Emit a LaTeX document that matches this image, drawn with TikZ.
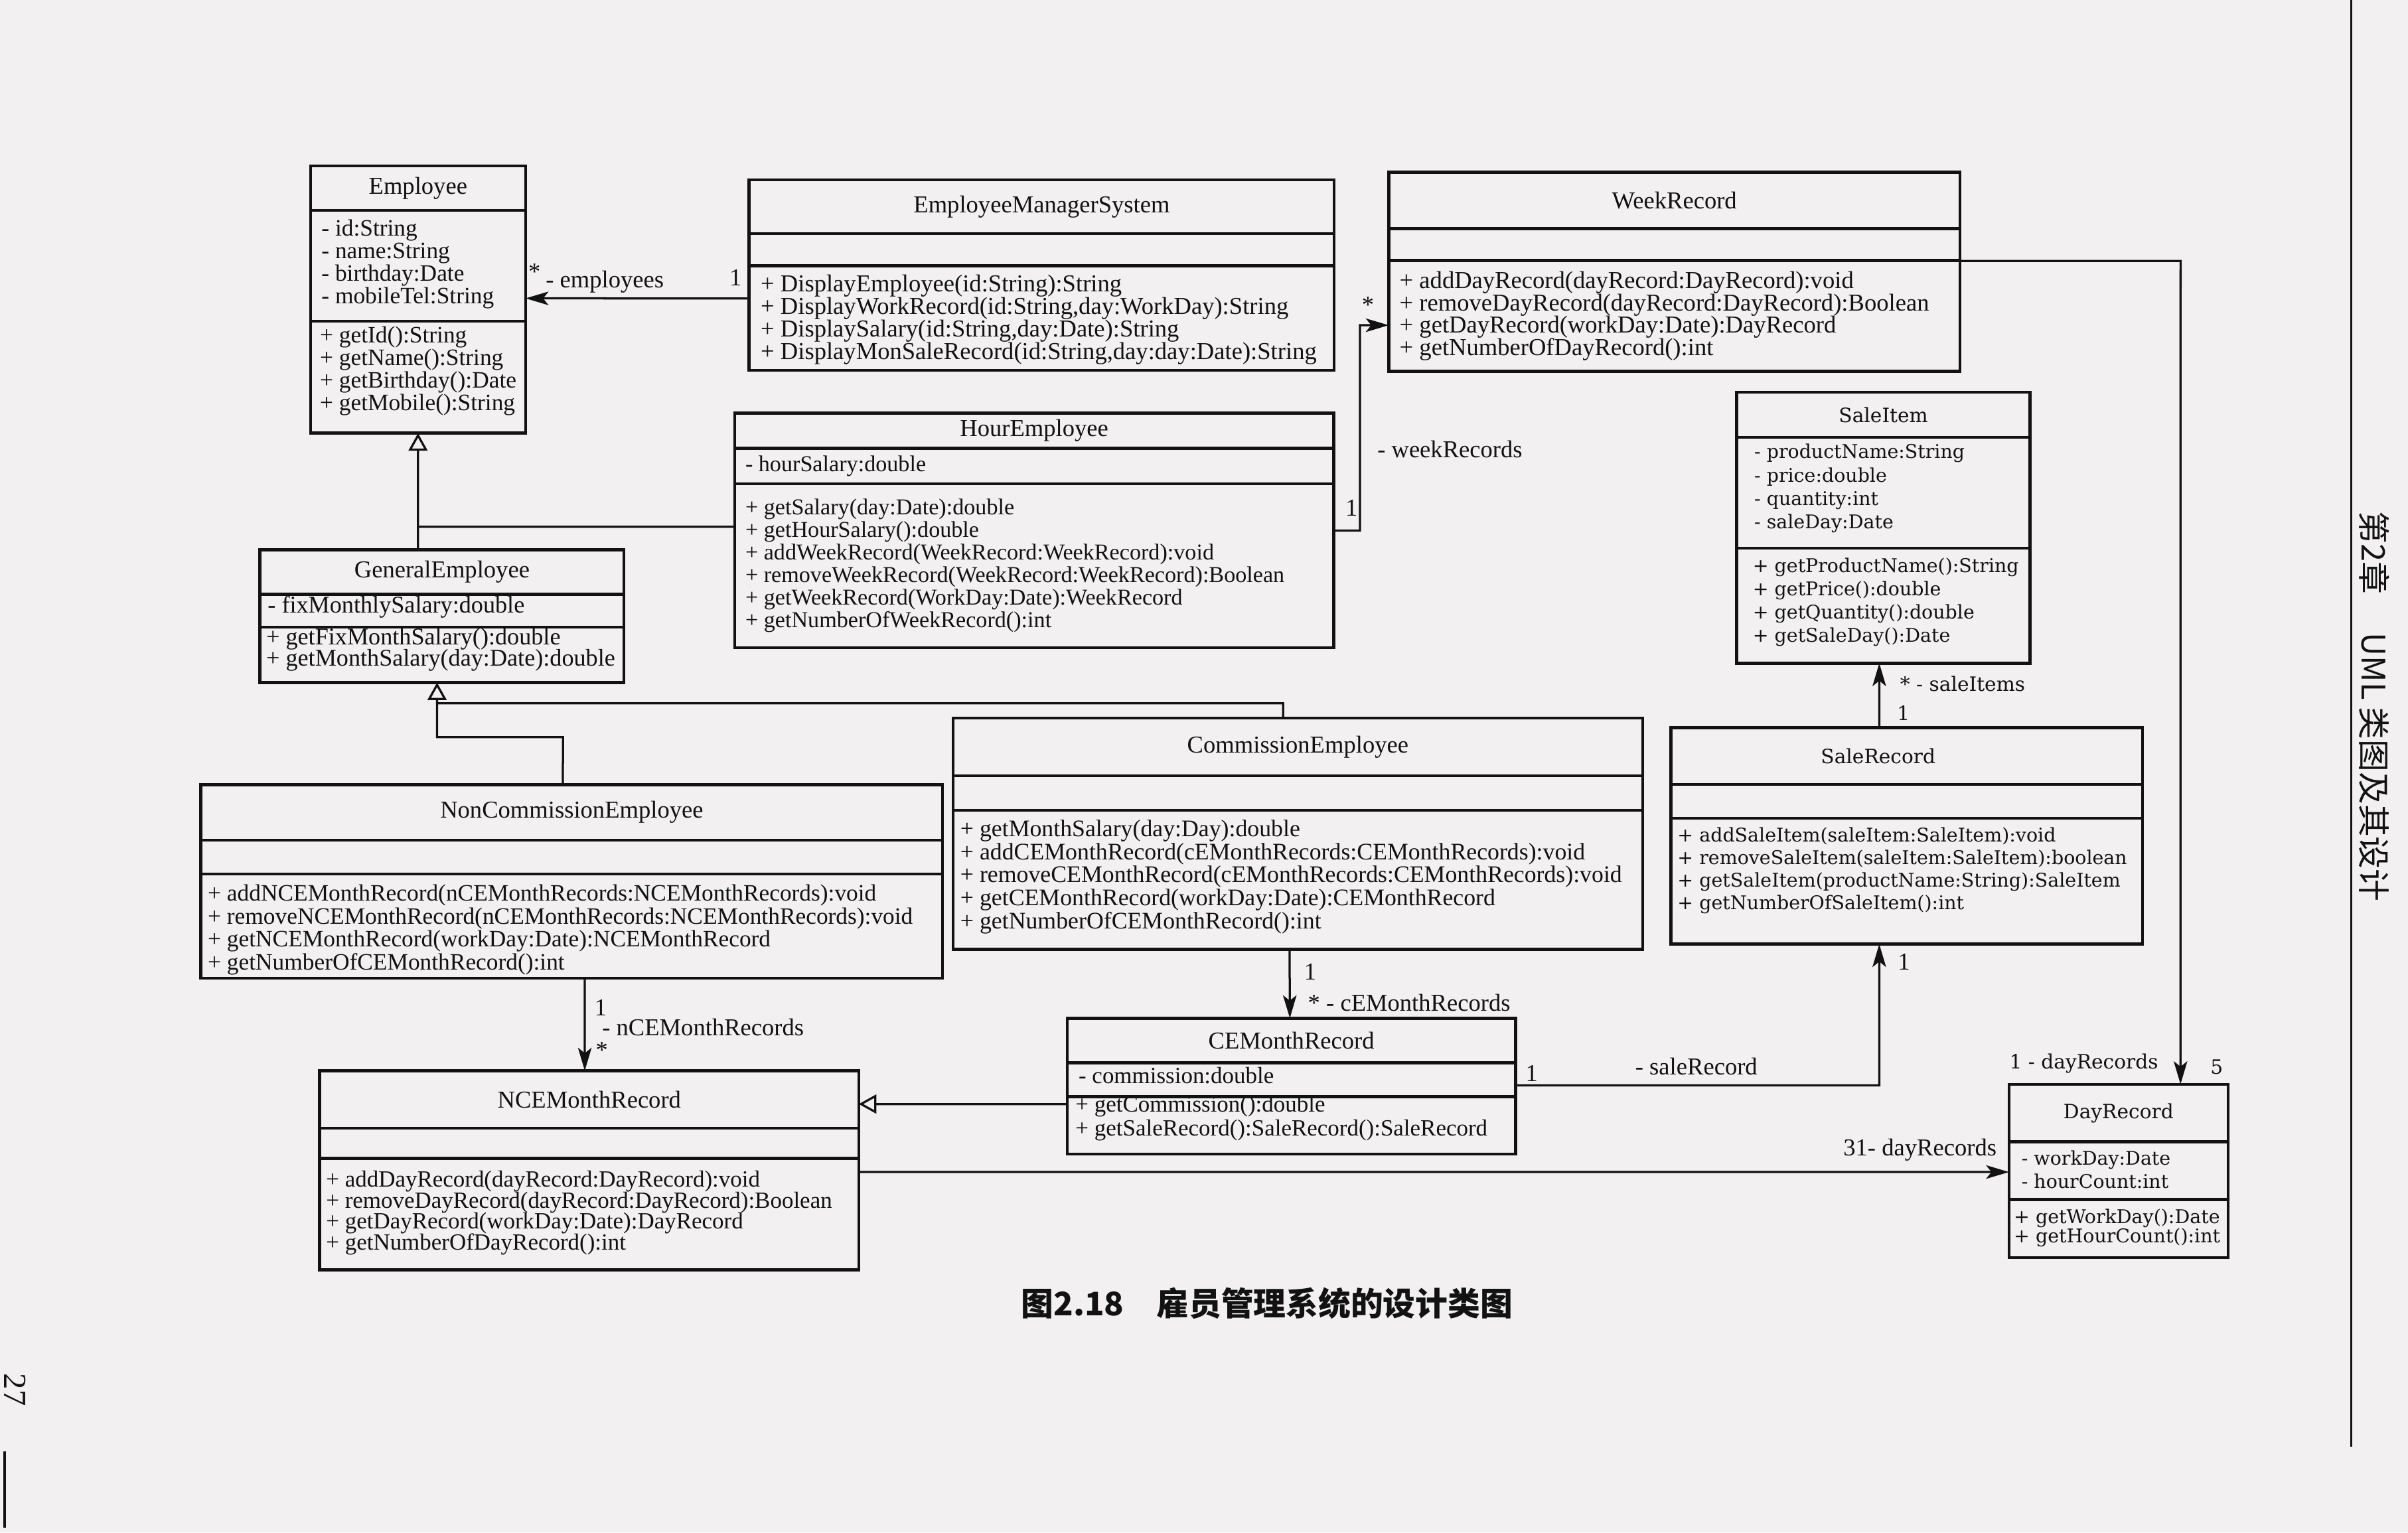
\documentclass[tikz,border=0pt]{standalone}
\usepackage{fontspec}
\setmainfont{Liberation Serif}
\newfontfamily\widefont{DejaVu Serif}
\newfontfamily\cjkfont{Noto Sans CJK SC}
\usetikzlibrary{arrows.meta,calc}

\definecolor{paper}{RGB}{242,240,240}
\definecolor{ink}{RGB}{18,18,18}

\tikzset{
  classbox/.style={draw=ink, line width=1.1pt, inner sep=0pt, outer sep=0pt},
  sepline/.style={draw=ink, line width=1.1pt},
  mem/.style={inner sep=0pt, text=ink, font=\fontsize{#1}{#1}\selectfont},
  mem/.default=8.7,
  memw/.style={inner sep=0pt, text=ink, font=\widefont\fontsize{7}{8}\selectfont},
  ttl/.style={inner sep=0pt, text=ink, font=\fontsize{9}{10}\selectfont},
  ttlw/.style={inner sep=0pt, text=ink, font=\widefont\fontsize{7.3}{8}\selectfont},
  lbl/.style={inner sep=0pt, text=ink, font=\fontsize{9}{10}\selectfont},
  lblw/.style={inner sep=0pt, text=ink, font=\widefont\fontsize{7.3}{8}\selectfont},
  link/.style={draw=ink, line width=0.8pt},
  assoc/.style={link, -{Stealth[length=8.5pt,width=5pt,inset=2pt]}},
  gen/.style={link, -{Triangle[open,length=6.5pt,width=7pt]}},
}

% class box: name, left, top, width, height, first and second divider, title style, title
\newcommand\umlclass[9]{%
  \node[classbox, anchor=north west, minimum width={#4*0.02cm}, minimum height={#5*0.02cm}] (#1) at (#2,#3) {};
  \draw[sepline] ({#2},{#3+#6}) -- ({#2+#4},{#3+#6});
  \draw[sepline] ({#2},{#3+#7}) -- ({#2+#4},{#3+#7});
  \node[#8] (#1-name) at ({#2+#4/2},{#3+#6/2}) {#9};
}
% compartment lines: name, x, first baseline, line step, style, list
\newcommand\members[6]{%
  \foreach \mtxt [count=\mi] in {#6}
    \node[#5, anchor=base west] (#1-\mi) at ({#2},{#3+(\mi-1)*#4}) {\mtxt};
}

\begin{document}
\begin{tikzpicture}[x=0.02cm, y=-0.02cm]
\fill[paper] (0,0) rectangle (1568,998);
\useasboundingbox (0,0) rectangle (1568,998);

% ---------- classes ----------
\umlclass{emp}{202.2}{108.1}{140}{174}{29}{101}{ttl}{Employee}
\members{emp-a}{209}{153.5}{14.8}{mem=8.7}{{- id:String},{- name:String},{- birthday:Date},{- mobileTel:String}}
\members{emp-o}{208}{223.4}{14.6}{mem=8.7}{{+ getId():String},{+ getName():String},{+ getBirthday():Date},{+ getMobile():String}}

\umlclass{ems}{487.8}{117.1}{381}{124}{35}{56}{ttl}{EmployeeManagerSystem}
\members{ems-o}{495}{190.1}{14.7}{mem=9}{{+ DisplayEmployee(id:String):String},{+ DisplayWorkRecord(id:String,day:WorkDay):String},{+ DisplaySalary(id:String,day:Date):String},{+ DisplayMonSaleRecord(id:String,day:day:Date):String}}

\umlclass{wr}{904.3}{112.2}{372}{129.6}{36.6}{57.5}{ttl}{WeekRecord}
\members{wr-o}{911}{187.8}{14.5}{mem=9}{{+ addDayRecord(dayRecord:DayRecord):void},{+ removeDayRecord(dayRecord:DayRecord):Boolean},{+ getDayRecord(workDay:Date):DayRecord},{+ getNumberOfDayRecord():int}}

\umlclass{he}{478.4}{269}{390}{152.7}{23}{46}{ttl}{HourEmployee}
\members{he-a}{485}{307}{14.7}{mem=8.4}{{- hourSalary:double}}
\members{he-o}{485}{335.3}{14.7}{mem=8.4}{{+ getSalary(day:Date):double},{+ getHourSalary():double},{+ addWeekRecord(WeekRecord:WeekRecord):void},{+ removeWeekRecord(WeekRecord:WeekRecord):Boolean},{+ getWeekRecord(WorkDay:Date):WeekRecord},{+ getNumberOfWeekRecord():int}}

\umlclass{ge}{169.3}{358.1}{237}{86.4}{29}{50.4}{ttl}{GeneralEmployee}
\members{ge-a}{174}{399.1}{13.7}{mem=8.9}{{- fixMonthlySalary:double}}
\members{ge-o}{173}{420}{13.7}{mem=8.9}{{+ getFixMonthSalary():double},{+ getMonthSalary(day:Date):double}}

\umlclass{ce}{620.6}{467.7}{449}{150.5}{37.5}{60}{ttl}{CommissionEmployee}
\members{ce-o}{625}{544.8}{15}{mem=8.8}{{+ getMonthSalary(day:Day):double},{+ addCEMonthRecord(cEMonthRecords:CEMonthRecords):void},{+ removeCEMonthRecord(cEMonthRecords:CEMonthRecords):void},{+ getCEMonthRecord(workDay:Date):CEMonthRecord},{+ getNumberOfCEMonthRecord():int}}

\umlclass{nce}{130.8}{511.1}{483}{126}{36}{58}{ttl}{NonCommissionEmployee}
\members{nce-o}{135}{586.8}{14.9}{mem=8.7}{{+ addNCEMonthRecord(nCEMonthRecords:NCEMonthRecords):void},{+ removeNCEMonthRecord(nCEMonthRecords:NCEMonthRecords):void},{+ getNCEMonthRecord(workDay:Date):NCEMonthRecord},{+ getNumberOfCEMonthRecord():int}}

\umlclass{si}{1130.9}{255.4}{191}{176.5}{29.5}{101.6}{ttlw}{SaleItem}
\members{si-a}{1142}{298.6}{15.2}{memw}{{- productName:String},{- price:double},{- quantity:int},{- saleDay:Date}}
\members{si-o}{1141}{372.8}{15.1}{memw}{{+ getProductName():String},{+ getPrice():double},{+ getQuantity():double},{+ getSaleDay():Date}}

% SaleRecord: the title sits a little left of the box centre
\node[classbox, anchor=north west, minimum width={307*0.02cm}, minimum height={141*0.02cm}] (sr) at (1088,473.8) {};
\draw[sepline] (1088,510.8) -- (1395,510.8);
\draw[sepline] (1088,532.8) -- (1395,532.8);
\node[ttlw] (sr-name) at (1223,492.3) {SaleRecord};
\members{sr-o}{1092}{548.1}{14.7}{memw}{{+ addSaleItem(saleItem:SaleItem):void},{+ removeSaleItem(saleItem:SaleItem):boolean},{+ getSaleItem(productName:String):SaleItem},{+ getNumberOfSaleItem():int}}

\umlclass{cemr}{694.9}{663.1}{292}{88.5}{29}{51}{ttl}{CEMonthRecord}
\members{cemr-a}{702}{705.6}{15}{mem=8.6}{{- commission:double}}
\members{cemr-o}{700}{724.3}{15.2}{mem=8.6}{{+ getCommission():double},{+ getSaleRecord():SaleRecord():SaleRecord}}

\umlclass{ncemr}{208.2}{697.3}{351}{129.6}{37.4}{57}{ttl}{NCEMonthRecord}
\members{ncemr-o}{212}{772.9}{13.7}{mem=8.6}{{+ addDayRecord(dayRecord:DayRecord):void},{+ removeDayRecord(dayRecord:DayRecord):Boolean},{+ getDayRecord(workDay:Date):DayRecord},{+ getNumberOfDayRecord():int}}

\umlclass{dr}{1308.2}{706.1}{142.6}{113}{37.5}{75}{ttlw}{DayRecord}
\members{dr-a}{1316}{758.7}{15.1}{memw}{{- workDay:Date},{- hourCount:int}}
\members{dr-o}{1311}{796.9}{12.2}{memw}{{+ getWorkDay():Date},{+ getHourCount():int}}

% ---------- relations ----------
% manager system -> employees
\draw[assoc] ($(ems.north west)!0.623!(ems.south west)$) -- ($(emp.north east)!0.4954!(emp.south east)$);
\node[lbl] (emp-star) at (348,177.1) {*};
\node[lbl] (emp-role) at (393.8,183.6) {- employees};
\node[lbl] (ems-one) at (479,180.9) {1};

% inheritance from Employee
\coordinate (j1) at (272.2,343);
\draw[link] ($(he.north west)!0.4846!(he.south west)$) -- (j1);
\draw[gen] ($(ge.north west)!0.434!(ge.north east)$) -- (emp.south);

% inheritance from GeneralEmployee
\coordinate (j2) at (284.6,458);
\coordinate (j3) at (835.5,458);
\coordinate (j4) at (366.6,480);
\coordinate (j5) at (284.6,480);
\draw[gen] ($(ce.north west)!0.4786!(ce.north east)$) -- (j3) -- (j2) -- ($(ge.south west)!0.4865!(ge.south east)$);
\draw[link] ($(nce.north west)!0.488!(nce.north east)$) -- (j4) -- (j5) -- (j2);

% hour employee -> week records
\coordinate (k1) at (885.5,345.5);
\coordinate (k2) at (885.5,211.8);
\draw[assoc] ($(he.north east)!0.501!(he.south east)$) -- (k1) -- (k2) -- ($(wr.north west)!0.7685!(wr.south west)$);
\node[lbl] (he-one) at (880,330.6) {1};
\node[lbl] (wr-star) at (890.8,198.8) {*};
\node[lbl] (wr-role) at (944.1,292.5) {- weekRecords};

% week record -> day records
\coordinate (k3) at (1419.9,170);
\draw[assoc] ($(wr.north east)!0.446!(wr.south east)$) -- (k3) -- ($(dr.north west)!0.783!(dr.north east)$);
\node[lblw] (dr-role1) at (1356.9,692.4) {1 - dayRecords};
\node[lblw] (dr-five) at (1443.4,694.9) {5};

% sale record -> sale items
\draw[assoc] ($(sr.north west)!0.442!(sr.north east)$) -- ($(si.south west)!0.4859!(si.south east)$);
\node[lblw] (si-role) at (1278,445.3) {* - saleItems};
\node[lblw] (sr-one) at (1239.4,464.2) {1};

% commission employee -> month records
\draw[assoc] ($(ce.south west)!0.488!(ce.south east)$) -- ($(cemr.north west)!0.4966!(cemr.north east)$);
\node[lbl] (ce-one) at (853.2,633.1) {1};
\node[lbl] (cemr-role) at (917.6,653) {* - cEMonthRecords};

% month record -> sale record
\coordinate (k4) at (1223.7,706.8);
\draw[assoc] ($(cemr.north east)!0.4938!(cemr.south east)$) -- (k4) -- ($(sr.south west)!0.442!(sr.south east)$);
\node[lbl] (cemr-one) at (997.4,699.2) {1};
\node[lbl] (sr-role) at (1104.6,694.5) {- saleRecord};
\node[lbl] (sr-one2) at (1239.7,626.3) {1};

% CEMonthRecord specialises NCEMonthRecord
\draw[gen] ($(cemr.north west)!0.6316!(cemr.south west)$) -- ($(ncemr.north east)!0.1674!(ncemr.south east)$);

% non-commission employee -> month records
\draw[assoc] ($(nce.south west)!0.5176!(nce.south east)$) -- ($(ncemr.north west)!0.4917!(ncemr.north east)$);
\node[lbl] (nce-one) at (391.1,656.4) {1};
\node[lbl] (ncemr-role) at (457.8,669.2) {- nCEMonthRecords};
\node[lbl] (ncemr-star) at (391.9,683.8) {*};

% month record -> day records
\draw[assoc] ($(ncemr.north east)!0.509!(ncemr.south east)$) -- ($(dr.north west)!0.506!(dr.south west)$);
\node[lbl] (dr-role2) at (1250.2,748.7) {31- dayRecords};

% ---------- page furniture ----------
\node[text=ink, font=\cjkfont\bfseries\fontsize{12}{12}\selectfont] (caption) at (825,849) {图2.18\hspace{1em}雇员管理系统的设计类图};
\node[text=ink, rotate=-90, font=\cjkfont\fontsize{12}{12}\selectfont] (header) at (1546,460) {第2章\hspace{1.2em}UML 类图及其设计};
\draw[draw=ink, line width=0.8pt] (1531,0) -- (1531,942);
\node[text=ink, rotate=-90, inner sep=1pt, font=\fontsize{12}{12}\selectfont] (pageno) at (10,905) {27};
\draw[draw=ink, line width=0.8pt] (3,945) -- (3,995);
\end{tikzpicture}
\end{document}
